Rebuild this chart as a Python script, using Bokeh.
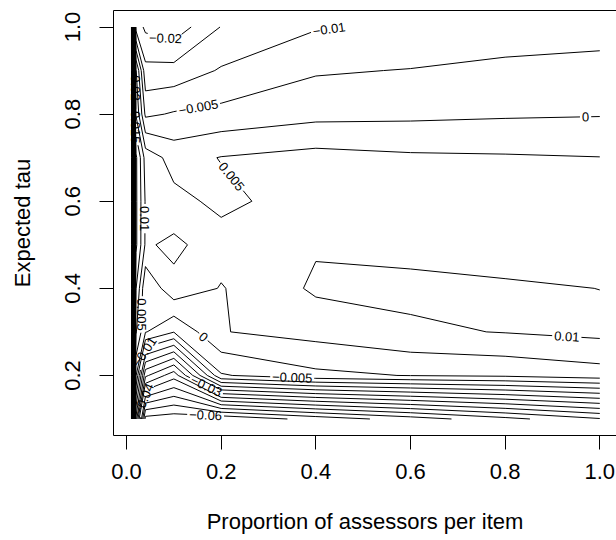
import math
from collections import defaultdict
from bokeh.plotting import figure
from bokeh.models import Range1d, FixedTicker, LinearAxis, PrintfTickFormatter
from bokeh.embed import file_html
from bokeh.resources import INLINE
from bokeh.core.properties import value

# ---------------- data ----------------
prop_assessors = [0.01, 0.02, 0.04, 0.1, 0.2, 0.4, 0.6, 0.8, 1.0]
expected_tau = [0.1, 0.2, 0.3, 0.4, 0.5, 0.6, 0.7, 0.8, 0.9, 1.0]

# surface value at each expected tau (rows), across prop_assessors (columns)
bias_tau_01 = [0.1, -0.0215, -0.062, -0.063, -0.0642, -0.0582, -0.0526, -0.0466, -0.0405]
bias_tau_02 = [0.1, 0.0004, -0.029, -0.038, -0.0055, -0.0012, 0.0002, 0.0009, 0.0027]
bias_tau_03 = [0.1, 0.0105, 0.0003, -0.0048, 0.0048, 0.0068, 0.0092, 0.0102, 0.0113]
bias_tau_04 = [0.1, 0.0152, 0.0007, 0.0085, 0.0047, 0.0108, 0.0112, 0.0108, 0.00995]
bias_tau_05 = [0.1, 0.021, 0.0093, 0.0112, 0.00704, 0.0095, 0.0085, 0.0072, 0.0085]
bias_tau_06 = [0.1, 0.021, 0.0095, 0.0065, 0.0038, 0.0075, 0.0068, 0.0062, 0.0068]
bias_tau_07 = [0.1, 0.021, 0.008, 0.003, 0.0052, 0.0068, 0.0058, 0.0055, 0.0051]
bias_tau_08 = [0.1, 0.0095, -0.006, -0.0045, -0.0035, -0.0015, -0.0011, -0.0006, -0.0003]
bias_tau_09 = [0.1, 0.0055, -0.0135, -0.0132, -0.0095, -0.0055, -0.0048, -0.0042, -0.0040]
bias_tau_10 = [0.1, -0.017, -0.021, -0.023, -0.0148, -0.0104, -0.0092, -0.0068, -0.0062]

contour_levels = [round(-0.06 + 0.005 * k, 3) for k in range(32)]  # -0.06 .. 0.095

x_ticks = [0.0, 0.2, 0.4, 0.6, 0.8, 1.0]
y_ticks = [0.2, 0.4, 0.6, 0.8, 1.0]

# label anchors: (level, approximate x, approximate y)
label_spots = [
    (-0.02, 0.085, 0.985), (-0.01, 0.48, 0.995), (-0.005, 0.15, 0.827),
    (0.0, 0.97, 0.793), (0.005, 0.226, 0.66), (0.01, 0.93, 0.284),
    (0.01, 0.04, 0.56), (0.005, 0.032, 0.34), (0.02, 0.015, 0.86),
    (0.015, 0.015, 0.77), (0.0, 0.16, 0.285), (-0.005, 0.35, 0.19),
    (-0.01, 0.046, 0.252), (-0.03, 0.165, 0.168), (-0.04, 0.06, 0.141),
    (-0.06, 0.167, 0.106),
]

Z = [bias_tau_01, bias_tau_02, bias_tau_03, bias_tau_04, bias_tau_05,
     bias_tau_06, bias_tau_07, bias_tau_08, bias_tau_09, bias_tau_10]

# ---------------- frame geometry ----------------
W, H = 616, 540
LEFT, TOP, BOTTOM = 113, 10, 105
FW, FH = W - LEFT, H - TOP - BOTTOM
X0, X1 = -0.0275, 1.0353
Y0, Y1 = 0.0621, 1.0379
SX = FW / (X1 - X0)
SY = FH / (Y1 - Y0)
FONT = "Liberation Sans"
LAB_PX = 13


def to_px(x, y):
    return ((x - X0) * SX, (Y1 - y) * SY)


def to_data(px, py):
    return (X0 + px / SX, Y1 - py / SY)


# ---------------- marching squares ----------------
def trace_level(xs, ys, Zg, level):
    nx, ny = len(xs), len(ys)

    def above(v):
        return v >= level

    def point(key):
        kind, i, j = key
        if kind == 'h':
            v1, v2 = Zg[j][i], Zg[j][i + 1]
            t = (level - v1) / (v2 - v1)
            return (xs[i] + t * (xs[i + 1] - xs[i]), ys[j])
        v1, v2 = Zg[j][i], Zg[j + 1][i]
        t = (level - v1) / (v2 - v1)
        return (xs[i], ys[j] + t * (ys[j + 1] - ys[j]))

    segs = []
    for j in range(ny - 1):
        for i in range(nx - 1):
            c0, c1, c2, c3 = Zg[j][i], Zg[j][i + 1], Zg[j + 1][i + 1], Zg[j + 1][i]
            a = [above(c0), above(c1), above(c2), above(c3)]
            b = ('h', i, j); r = ('v', i + 1, j); t = ('h', i, j + 1); l = ('v', i, j)
            crossed = []
            if a[0] != a[1]: crossed.append(b)
            if a[1] != a[2]: crossed.append(r)
            if a[2] != a[3]: crossed.append(t)
            if a[3] != a[0]: crossed.append(l)
            if len(crossed) == 2:
                segs.append((crossed[0], crossed[1]))
            elif len(crossed) == 4:
                center = above((c0 + c1 + c2 + c3) / 4.0)
                if a[0]:
                    segs += [(b, r), (t, l)] if center else [(l, b), (r, t)]
                else:
                    segs += [(l, b), (r, t)] if center else [(b, r), (t, l)]

    adj = defaultdict(list)
    for k, (p, q) in enumerate(segs):
        adj[p].append(k)
        adj[q].append(k)
    used = [False] * len(segs)

    def walk(start, k):
        keys = [start]
        cur = start
        while k is not None and not used[k]:
            used[k] = True
            p, q = segs[k]
            nxt = q if p == cur else p
            keys.append(nxt)
            cur = nxt
            k = next((m for m in adj[cur] if not used[m]), None)
        return keys

    lines = []
    for key in list(adj.keys()):
        ks = adj[key]
        if len(ks) == 1 and not used[ks[0]]:
            lines.append(walk(key, ks[0]))
    for k in range(len(segs)):
        if not used[k]:
            lines.append(walk(segs[k][0], k))
    return [[point(key) for key in ln] for ln in lines]


def fmt_level(v):
    s = "%g" % v
    if s in ("-0",):
        s = "0"
    return s.replace("-", "\u2212")


CHAR_W = {"0": 0.556, "1": 0.556, "2": 0.556, "3": 0.556, "4": 0.556, "5": 0.556,
          "6": 0.556, "7": 0.556, "8": 0.556, "9": 0.556, ".": 0.278, "\u2212": 0.584}


def text_width(s):
    return sum(CHAR_W.get(c, 0.556) for c in s) * LAB_PX


def cumlen(pts):
    c = [0.0]
    for k in range(1, len(pts)):
        c.append(c[-1] + math.hypot(pts[k][0] - pts[k - 1][0], pts[k][1] - pts[k - 1][1]))
    return c


def point_at(pts, cum, s):
    if s <= 0:
        return pts[0]
    for k in range(1, len(pts)):
        if cum[k] >= s:
            seg = cum[k] - cum[k - 1]
            t = 0.0 if seg == 0 else (s - cum[k - 1]) / seg
            return (pts[k - 1][0] + t * (pts[k][0] - pts[k - 1][0]),
                    pts[k - 1][1] + t * (pts[k][1] - pts[k - 1][1]))
    return pts[-1]


def piece(pts, cum, sa, sb):
    out = [point_at(pts, cum, sa)]
    for k in range(len(pts)):
        if sa < cum[k] < sb:
            out.append(pts[k])
    out.append(point_at(pts, cum, sb))
    return out


line_xs, line_ys = [], []
lab_x, lab_y, lab_text, lab_angle = [], [], [], []

for level in contour_levels:
    polylines = trace_level(prop_assessors, expected_tau, Z, level)
    px_lines = [[to_px(x, y) for (x, y) in pl] for pl in polylines]
    cums = [cumlen(pl) for pl in px_lines]
    gaps = defaultdict(list)
    for (lv, ax, ay) in label_spots:
        if abs(lv - level) > 1e-9:
            continue
        tx, ty = to_px(ax, ay)
        best = None
        for n, pl in enumerate(px_lines):
            cum = cums[n]
            for k in range(1, len(pl)):
                (x1, y1), (x2, y2) = pl[k - 1], pl[k]
                dx, dy = x2 - x1, y2 - y1
                L2 = dx * dx + dy * dy
                t = 0.0 if L2 == 0 else max(0.0, min(1.0, ((tx - x1) * dx + (ty - y1) * dy) / L2))
                qx, qy = x1 + t * dx, y1 + t * dy
                d = math.hypot(tx - qx, ty - qy)
                if best is None or d < best[0]:
                    best = (d, n, cum[k - 1] + t * math.sqrt(L2))
        if best is None:
            continue
        _, n, s = best
        txt = fmt_level(level)
        w = text_width(txt) + 4
        total = cums[n][-1]
        if total < w:
            continue
        s = max(w / 2, min(total - w / 2, s))
        pa = point_at(px_lines[n], cums[n], s - w / 2)
        pb = point_at(px_lines[n], cums[n], s + w / 2)
        pc = point_at(px_lines[n], cums[n], s)
        ang = math.atan2(-(pb[1] - pa[1]), pb[0] - pa[0])
        if ang > math.pi / 2:
            ang -= math.pi
        elif ang <= -math.pi / 2:
            ang += math.pi
        if abs(ang) > 1.35:
            ang = -math.pi / 2
        gaps[n].append((s - w / 2, s + w / 2))
        dx_, dy_ = to_data(*pc)
        lab_x.append(dx_); lab_y.append(dy_); lab_text.append(txt); lab_angle.append(ang)

    for n, pl in enumerate(px_lines):
        cum = cums[n]
        cuts = sorted(gaps.get(n, []))
        start = 0.0
        pieces = []
        for (ga, gb) in cuts:
            if ga > start:
                pieces.append(piece(pl, cum, start, ga))
            start = gb
        if start < cum[-1]:
            pieces.append(piece(pl, cum, start, cum[-1]))
        for pc_ in pieces:
            d = [to_data(px, py) for (px, py) in pc_]
            line_xs.append([q[0] for q in d])
            line_ys.append([q[1] for q in d])

# ---------------- figure ----------------
p = figure(width=W, height=H, x_range=Range1d(X0, X1), y_range=Range1d(Y0, Y1),
           output_backend="svg", toolbar_location=None,
           min_border_left=LEFT, min_border_right=0, min_border_top=TOP,
           min_border_bottom=BOTTOM)
p.outline_line_color = None
p.background_fill_color = "white"
p.border_fill_color = "white"
p.xgrid.visible = False
p.ygrid.visible = False

p.multi_line(line_xs, line_ys, line_color="black", line_width=1)
p.text(x=lab_x, y=lab_y, text=lab_text, angle=lab_angle,
       text_font=value(FONT), text_font_size="%dpx" % LAB_PX, text_color="black",
       text_align="center", text_baseline="middle")

for ax in (p.xaxis[0], p.yaxis[0]):
    ax.axis_line_color = "black"
    ax.axis_line_width = 1
    ax.major_tick_line_color = "black"
    ax.major_tick_in = 0
    ax.major_tick_out = 14
    ax.minor_tick_line_color = None
    ax.major_label_text_font = FONT
    ax.major_label_text_font_size = "22px"
    ax.major_label_text_color = "black"
    ax.axis_label_text_font = FONT
    ax.axis_label_text_font_size = "22px"
    ax.axis_label_text_font_style = "normal"
    ax.axis_label_text_color = "black"
    ax.formatter = PrintfTickFormatter(format="%.1f")

p.xaxis[0].ticker = FixedTicker(ticks=x_ticks)
p.yaxis[0].ticker = FixedTicker(ticks=y_ticks)
p.xaxis[0].axis_label = "Proportion of assessors per item"
p.yaxis[0].axis_label = "Expected tau"
p.xaxis[0].major_label_standoff = 14
p.xaxis[0].axis_label_standoff = 27
p.yaxis[0].major_label_orientation = "vertical"
p.yaxis[0].major_label_standoff = 19
p.yaxis[0].axis_label_standoff = 28

top_axis = LinearAxis(ticker=FixedTicker(ticks=[]), major_tick_out=0, major_tick_in=0,
                      major_label_standoff=0, minor_tick_out=0, minor_tick_in=0,
                      major_label_text_font_size="0px", axis_line_color="black",
                      major_tick_line_color=None, minor_tick_line_color=None)
p.add_layout(top_axis, "above")

open("out.html", "w").write(file_html(p, INLINE))
